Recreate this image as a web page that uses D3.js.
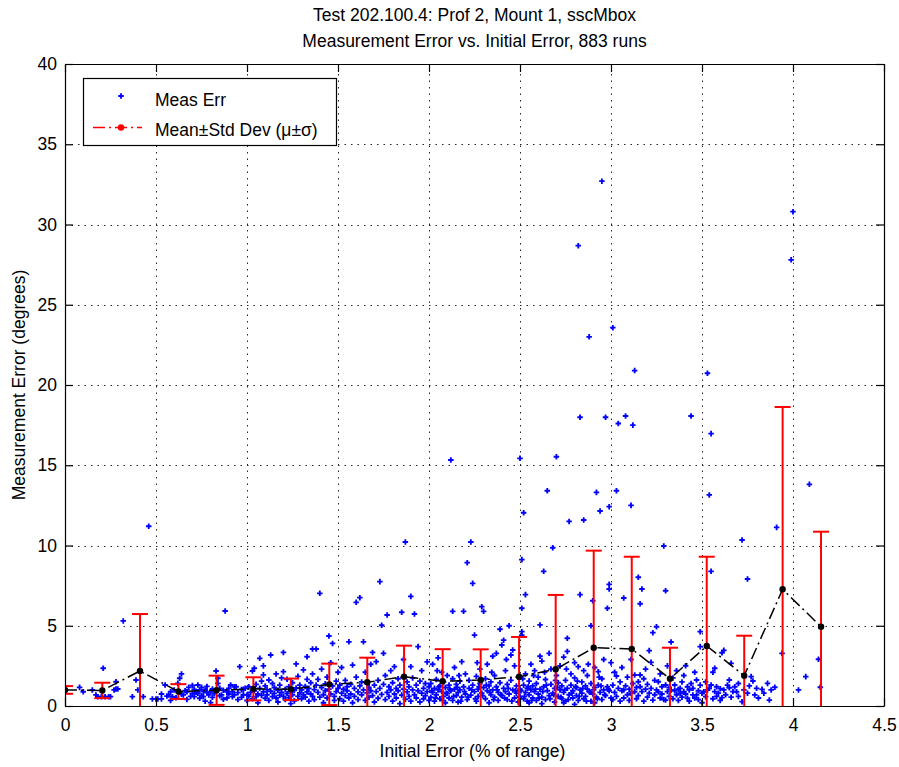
<!DOCTYPE html>
<html>
<head>
<meta charset="utf-8">
<script src="https://cdn.jsdelivr.net/npm/d3@7"></script>
<style>
  body { margin: 0; background: #fff; }
  text { font-family: "Liberation Sans", Arial, Helvetica, sans-serif; }
</style>
</head>
<body>
<svg id="chart" width="899" height="767"></svg>
<script>
// ---- chart text ----
const titleLines = [
  "Test 202.100.4: Prof 2, Mount 1, sscMbox",
  "Measurement Error vs. Initial Error, 883 runs"
];
const xLabel = "Initial Error (% of range)";
const yLabel = "Measurement Error (degrees)";
const legendLabels = ["Meas Err", "Mean\u00B1Std Dev (\u03BC\u00B1\u03C3)"];

// ---- axis ticks ----
const xTicks = [0, 0.5, 1, 1.5, 2, 2.5, 3, 3.5, 4, 4.5];
const yTicks = [0, 5, 10, 15, 20, 25, 30, 35, 40];

// ---- binned statistics: bin centre, mean and standard deviation ----
const binCenters = [0, 0.205, 0.412, 0.623, 0.833, 1.035, 1.242, 1.452, 1.661, 1.863, 2.075,
                    2.284, 2.495, 2.696, 2.905, 3.114, 3.324, 3.526, 3.732, 3.943, 4.154];
const binMeans   = [1.0, 0.97, 2.18, 0.9, 0.98, 1.07, 1.04, 1.35, 1.48, 1.83, 1.54,
                    1.62, 1.83, 2.29, 3.63, 3.55, 1.70, 3.74, 1.89, 7.27, 4.94];
const binStd     = [0.24, 0.48, 3.55, 0.46, 0.91, 0.72, 0.67, 1.29, 1.53, 1.93, 2.0,
                    1.91, 2.47, 4.63, 6.05, 5.75, 1.93, 5.56, 2.49, 11.36, 5.92];

// ---- individual runs: [initial error, measurement error] ----
const measErr = [
  // 0 - 0.55
  [0.08,1.16],[0.10,0.89],[0.15,1.0],[0.17,0.69],[0.18,0.58],[0.20,0.58],[0.22,0.58],[0.24,0.58],
  [0.25,0.58],[0.21,2.35],[0.27,1.0],[0.28,1.06],[0.29,1.06],[0.28,1.51],[0.32,5.3],[0.37,0.58],
  [0.39,1.62],[0.40,1.0],[0.43,0.58],[0.46,11.2],[0.48,0.44],[0.50,0.44],[0.51,0.44],[0.53,0.44],
  [0.53,0.75],
  // 0.55 - 1.0
  [0.55,1.31],[0.56,0.62],[0.57,0.69],[0.58,0.89],[0.58,0.35],[0.59,0.58],[0.60,1.0],[0.61,0.52],
  [0.62,1.41],[0.63,1.73],[0.64,2.0],[0.64,0.74],[0.65,0.69],[0.66,0.95],[0.67,0.89],[0.67,0.41],
  [0.68,1.16],[0.69,0.6],[0.70,0.79],[0.70,1.28],[0.71,0.58],[0.71,1.04],[0.72,0.85],[0.73,1.31],
  [0.73,0.79],[0.74,1.0],[0.74,0.48],[0.75,1.16],[0.75,0.66],[0.76,0.58],[0.76,0.92],[0.77,1.0],
  [0.77,0.3],[0.78,0.83],[0.78,1.22],[0.79,0.69],[0.80,0.89],[0.80,0.21],[0.81,0.54],[0.81,1.06],
  [0.82,0.78],[0.83,2.18],[0.84,1.73],[0.84,1.41],[0.85,1.1],[0.85,0.64],[0.86,0.69],[0.87,0.42],
  [0.87,0.98],[0.88,5.92],[0.89,0.89],[0.89,0.5],[0.90,1.1],[0.90,0.75],[0.91,1.31],[0.92,0.58],
  [0.92,0.89],[0.93,0.69],[0.93,1.2],[0.94,1.2],[0.95,0.83],[0.95,0.4],[0.96,2.45],[0.97,0.54],
  [0.97,1.02],[0.98,1.04],[0.98,0.7],[0.99,1.1],[1.0,0.69],[1.0,0.34],
  // 1.0 - 1.5
  [1.01,0.62],[1.01,1.2],[1.02,0.85],[1.03,2.18],[1.03,0.45],[1.04,2.35],[1.04,0.95],[1.05,0.58],
  [1.05,1.35],[1.06,0.75],[1.06,0.2],[1.07,2.97],[1.07,1.1],[1.08,0.66],[1.08,1.55],[1.09,2.5],
  [1.09,1.94],[1.09,0.88],[1.10,0.48],[1.10,1.25],[1.11,0.7],[1.11,1.02],[1.12,0.35],[1.12,1.62],
  [1.13,3.18],[1.13,0.92],[1.14,0.58],[1.14,1.4],[1.15,0.79],[1.15,1.15],[1.16,2.0],[1.16,0.5],
  [1.17,0.98],[1.17,0.25],[1.18,1.3],[1.18,0.66],[1.19,0.85],[1.19,1.75],[1.20,2.14],[1.20,3.34],
  [1.20,0.6],[1.21,1.05],[1.21,0.4],[1.22,1.66],[1.22,0.78],[1.23,1.2],[1.23,0.52],[1.24,0.9],
  [1.24,0.15],[1.25,1.45],[1.25,0.7],[1.26,0.98],[1.26,0.32],[1.27,2.62],[1.27,1.12],[1.28,0.6],
  [1.28,1.85],[1.29,0.82],[1.29,1.3],[1.30,0.45],[1.30,1.0],[1.31,2.25],[1.31,0.7],[1.32,1.22],
  [1.32,0.55],[1.33,3.07],[1.33,1.66],[1.33,0.88],[1.34,0.3],[1.34,1.1],[1.35,0.75],[1.35,1.45],
  [1.36,2.0],[1.36,3.55],[1.36,0.6],[1.37,1.02],[1.37,0.4],[1.38,3.55],[1.38,1.3],[1.39,0.85],
  [1.39,1.66],[1.40,7.02],[1.40,0.55],[1.41,1.15],[1.41,2.3],[1.42,0.7],[1.42,0.2],[1.43,1.38],
  [1.43,0.95],[1.44,1.8],[1.44,0.5],[1.45,4.36],[1.45,1.05],[1.46,0.75],[1.46,2.7],[1.47,3.9],
  [1.47,1.25],[1.48,0.6],[1.48,0.35],[1.49,1.55],[1.49,0.9],[1.50,1.1],[1.50,2.1],
  // 1.5 - 2.0
  [1.51,0.45],[1.51,1.3],[1.52,0.8],[1.52,2.4],[1.53,1.05],[1.53,0.3],[1.54,0.65],[1.54,1.6],
  [1.55,0.95],[1.55,1.2],[1.56,4.0],[1.56,0.5],[1.57,1.35],[1.57,0.75],[1.58,2.55],[1.58,0.2],
  [1.59,1.1],[1.59,0.6],[1.60,6.46],[1.60,1.8],[1.61,0.88],[1.61,0.4],[1.62,6.75],[1.62,1.25],
  [1.63,0.7],[1.63,1.5],[1.64,4.0],[1.64,1.0],[1.65,0.35],[1.65,2.1],[1.66,0.82],[1.66,1.4],
  [1.67,0.55],[1.67,1.15],[1.68,0.95],[1.68,2.6],[1.69,3.34],[1.69,0.65],[1.70,1.3],[1.70,0.25],
  [1.71,2.76],[1.71,0.9],[1.72,1.6],[1.72,0.48],[1.73,7.75],[1.73,1.1],[1.74,5.03],[1.74,0.72],
  [1.75,3.28],[1.75,1.35],[1.76,0.4],[1.76,1.9],[1.77,5.67],[1.77,0.85],[1.78,1.2],[1.78,0.6],
  [1.79,2.2],[1.79,1.0],[1.80,0.3],[1.80,1.45],[1.81,2.45],[1.81,0.75],[1.82,1.1],[1.82,0.5],
  [1.83,1.7],[1.83,0.95],[1.84,0.15],[1.84,1.3],[1.85,5.84],[1.85,0.68],[1.86,2.9],[1.86,1.05],
  [1.87,10.22],[1.87,0.42],[1.88,1.5],[1.88,0.88],[1.89,1.2],[1.89,0.6],[1.90,6.83],[1.90,2.45],
  [1.90,0.3],[1.91,1.0],[1.91,1.75],[1.92,5.73],[1.92,0.7],[1.93,1.3],[1.93,0.5],[1.94,3.7],
  [1.94,0.95],[1.95,1.55],[1.95,0.25],[1.96,2.2],[1.96,0.8],[1.97,1.1],[1.97,0.45],[1.98,1.4],
  [1.98,0.65],[1.99,0.9],[1.99,2.75],[2.0,1.2],[2.0,0.35],
  // 2.0 - 2.5
  [2.01,0.55],[2.01,1.4],[2.02,2.6],[2.02,0.85],[2.03,1.1],[2.03,0.3],[2.04,1.65],[2.04,0.7],
  [2.05,3.0],[2.05,1.0],[2.06,0.45],[2.06,1.25],[2.07,2.1],[2.07,0.9],[2.08,0.6],[2.08,1.5],
  [2.09,0.2],[2.09,1.15],[2.10,0.78],[2.10,1.9],[2.11,1.3],[2.11,0.5],[2.12,15.33],[2.12,0.95],
  [2.13,5.9],[2.13,1.7],[2.13,0.35],[2.14,1.05],[2.14,2.4],[2.15,0.65],[2.15,1.35],[2.16,0.85],
  [2.16,0.25],[2.17,1.55],[2.17,1.0],[2.18,2.76],[2.18,0.55],[2.19,5.9],[2.19,1.2],[2.20,0.75],
  [2.20,2.0],[2.21,8.93],[2.21,0.4],[2.22,1.1],[2.22,1.6],[2.23,10.22],[2.23,0.68],[2.24,7.64],
  [2.24,1.3],[2.25,4.42],[2.25,0.9],[2.26,0.3],[2.26,1.85],[2.27,1.05],[2.27,0.6],[2.28,2.3],
  [2.28,1.4],[2.29,6.19],[2.29,0.8],[2.30,5.9],[2.30,1.15],[2.31,0.45],[2.31,1.7],[2.32,0.95],
  [2.32,2.6],[2.33,1.25],[2.33,0.2],[2.34,0.7],[2.34,1.5],[2.35,1.0],[2.35,3.1],[2.36,0.55],
  [2.36,1.9],[2.37,3.28],[2.37,1.2],[2.38,0.85],[2.38,0.35],[2.39,4.78],[2.39,1.45],[2.40,3.8],
  [2.40,0.65],[2.41,4.1],[2.41,1.1],[2.42,0.9],[2.42,2.2],[2.43,0.4],[2.43,1.35],[2.44,5.0],
  [2.44,0.75],[2.45,3.18],[2.45,1.6],[2.46,3.49],[2.46,1.0],[2.47,0.5],[2.47,2.5],[2.48,1.25],
  [2.48,0.8],[2.49,0.25],[2.49,1.8],[2.50,15.43],[2.50,1.05],[2.50,0.6],
  [2.015,0.95],[2.035,0.5],[2.055,1.2],[2.075,0.35],[2.095,0.8],[2.115,1.05],[2.135,0.6],[2.155,1.15],
  [2.175,0.3],[2.195,0.9],[2.215,0.55],[2.235,1.0],[2.255,0.45],[2.275,1.2],[2.295,0.65],[2.315,1.3],
  [2.335,0.85],[2.355,0.4],[2.375,1.0],[2.395,0.7],[2.415,0.5],[2.435,1.1],[2.455,0.3],[2.475,0.95],
  [2.495,0.55],[2.045,2.2],[2.165,1.9],[2.265,2.7],[2.345,2.1],[2.425,2.9],
  // 2.5 - 3.0
  [2.51,4.42],[2.51,4.63],[2.51,6.09],[2.51,9.12],[2.52,12.04],[2.52,1.3],[2.52,0.45],[2.53,6.94],
  [2.53,0.85],[2.53,2.0],[2.54,1.1],[2.54,0.3],[2.55,1.55],[2.55,0.7],[2.56,2.6],[2.56,1.0],
  [2.57,0.5],[2.57,1.25],[2.58,0.9],[2.58,2.2],[2.59,0.35],[2.59,1.4],[2.60,0.75],[2.60,1.8],
  [2.61,5.05],[2.61,3.1],[2.61,1.05],[2.62,0.55],[2.62,2.8],[2.63,8.39],[2.63,1.2],[2.64,0.4],
  [2.64,1.65],[2.65,0.95],[2.65,13.41],[2.66,3.28],[2.66,0.65],[2.67,1.35],[2.67,2.3],[2.68,9.86],
  [2.68,0.8],[2.69,1.1],[2.69,0.25],[2.70,15.53],[2.70,1.9],[2.71,0.6],[2.71,1.45],[2.72,1.0],
  [2.72,2.5],[2.73,0.45],[2.73,1.25],[2.74,0.85],[2.74,3.05],[2.75,1.6],[2.75,0.3],[2.76,4.22],
  [2.76,3.4],[2.76,1.1],[2.77,11.5],[2.77,0.7],[2.78,2.0],[2.78,1.3],[2.79,0.5],[2.79,0.95],
  [2.80,1.75],[2.80,2.7],[2.81,0.65],[2.81,1.15],[2.82,28.68],[2.82,2.45],[2.82,0.35],[2.83,17.99],
  [2.83,6.94],[2.83,1.0],[2.84,1.5],[2.84,0.8],[2.85,11.59],[2.85,2.2],[2.85,0.45],[2.86,1.25],
  [2.86,0.6],[2.87,1.9],[2.87,1.05],[2.88,23.0],[2.88,0.9],[2.89,5.0],[2.89,1.4],[2.89,0.3],
  [2.90,6.56],[2.90,0.75],[2.91,2.4],[2.91,1.15],[2.92,13.31],[2.92,0.55],[2.93,2.14],[2.93,1.3],
  [2.94,12.15],[2.94,0.85],[2.95,32.7],[2.95,1.7],[2.95,0.4],[2.96,1.0],[2.96,2.9],[2.97,17.99],
  [2.97,0.65],[2.98,1.2],[2.98,6.09],[2.99,7.58],[2.99,7.29],[2.99,12.42],[2.99,0.95],[3.0,2.7],
  [3.0,0.5],
  [2.505,0.95],[2.525,0.6],[2.545,1.2],[2.565,0.35],[2.585,1.05],[2.605,0.5],[2.625,0.9],[2.645,1.3],
  [2.665,0.45],[2.685,0.7],[2.705,1.15],[2.725,0.55],[2.745,1.0],[2.765,0.4],[2.785,0.8],[2.805,1.2],
  [2.825,0.6],[2.845,1.1],[2.865,0.3],[2.885,0.85],[2.905,1.0],[2.925,0.45],[2.945,1.25],[2.965,0.7],
  [2.985,1.05],[2.515,1.7],[2.575,1.9],[2.635,2.1],[2.695,1.6],[2.755,2.3],[2.815,1.55],[2.875,2.6],
  [2.935,1.8],[2.55,0.2],[2.62,0.15],[2.74,0.2],[2.80,0.1],[2.91,0.2],
  // 3.0 - 3.5
  [3.01,23.57],[3.01,1.3],[3.01,0.4],[3.02,0.85],[3.02,2.1],[3.03,13.41],[3.03,1.87],[3.03,0.6],
  [3.04,17.6],[3.04,1.1],[3.05,0.3],[3.05,1.5],[3.06,0.95],[3.06,2.4],[3.07,6.73],[3.07,1.0],
  [3.07,0.5],[3.08,18.07],[3.08,1.25],[3.09,0.7],[3.09,1.8],[3.10,0.35],[3.10,1.05],[3.11,12.5],
  [3.11,2.9],[3.11,0.8],[3.12,17.5],[3.12,1.4],[3.13,20.9],[3.13,1.93],[3.13,0.89],[3.14,0.45],
  [3.14,1.15],[3.15,8.02],[3.15,1.51],[3.15,0.65],[3.16,6.37],[3.16,1.93],[3.16,1.2],[3.17,7.29],
  [3.17,0.9],[3.18,1.7],[3.18,0.3],[3.19,1.05],[3.19,2.3],[3.20,0.55],[3.20,1.35],[3.21,3.45],
  [3.21,0.8],[3.22,2.72],[3.22,1.1],[3.23,4.57],[3.23,0.37],[3.24,1.6],[3.24,0.7],[3.25,4.94],
  [3.25,1.0],[3.26,0.89],[3.26,1.51],[3.27,0.5],[3.27,2.0],[3.28,1.2],[3.28,0.75],[3.29,9.97],
  [3.29,0.4],[3.30,7.18],[3.30,1.31],[3.30,0.37],[3.31,0.9],[3.31,2.5],[3.32,1.15],[3.32,0.6],
  [3.33,3.99],[3.33,1.0],[3.34,0.45],[3.34,1.75],[3.35,1.31],[3.35,0.95],[3.36,0.7],[3.36,2.2],
  [3.37,1.05],[3.37,0.35],[3.38,1.1],[3.38,0.8],[3.39,1.5],[3.39,0.55],[3.40,0.9],[3.40,1.9],
  [3.41,2.51],[3.41,0.75],[3.42,0.48],[3.42,1.2],[3.43,1.0],[3.43,0.3],[3.44,18.07],[3.44,1.4],
  [3.45,0.69],[3.45,1.1],[3.46,0.5],[3.46,2.1],[3.47,0.69],[3.47,1.62],[3.48,0.95],[3.48,0.4],
  [3.49,4.63],[3.49,3.7],[3.49,1.3],[3.50,0.8],[3.50,0.2],
  // 3.5 - 4.2
  [3.51,0.89],[3.52,0.58],[3.52,1.5],[3.53,20.73],[3.53,1.0],[3.54,13.15],[3.54,1.1],[3.55,16.97],
  [3.55,8.39],[3.55,1.31],[3.56,2.1],[3.56,0.45],[3.57,2.35],[3.57,0.9],[3.58,1.2],[3.58,0.6],
  [3.59,0.8],[3.60,1.08],[3.60,0.35],[3.61,3.32],[3.61,0.52],[3.62,3.47],[3.62,1.0],[3.63,0.7],
  [3.64,1.3],[3.65,1.14],[3.65,1.62],[3.66,2.66],[3.66,0.55],[3.67,0.9],[3.68,1.2],[3.69,0.89],
  [3.70,1.4],[3.70,0.6],[3.72,10.34],[3.72,0.27],[3.73,1.0],[3.75,7.91],[3.75,0.8],[3.76,1.25],
  [3.77,1.83],[3.78,1.56],[3.79,0.69],[3.80,1.1],[3.81,0.5],[3.83,1.04],[3.84,0.8],[3.86,1.41],
  [3.87,0.37],[3.88,1.0],[3.90,1.17],[3.91,11.13],[3.94,3.28],[3.99,27.8],[4.0,30.8],[4.03,1.0],
  [4.07,1.83],[4.09,13.81],[4.14,2.91],[4.15,1.17]
];

// ---- layout ----
const svg = d3.select("#chart");
const plot = { left: 65, right: 884, top: 64, bottom: 706 };
const x = d3.scaleLinear().domain([0, 4.5]).range([plot.left, plot.right]);
const y = d3.scaleLinear().domain([0, 40]).range([plot.bottom, plot.top]);
const FONT = 17.5;

svg.append("rect").attr("width", 899).attr("height", 767).attr("fill", "#fff");

svg.append("defs").append("clipPath").attr("id", "plot-clip")
  .append("rect")
  .attr("x", plot.left).attr("y", plot.top)
  .attr("width", plot.right - plot.left).attr("height", plot.bottom - plot.top);

// dotted grid
const grid = svg.append("g").attr("stroke", "#000").attr("stroke-width", 1)
  .attr("stroke-dasharray", "1.5,5").attr("opacity", 0.85);
grid.selectAll("line.gx").data(xTicks.slice(1, -1)).join("line")
  .attr("x1", d => Math.round(x(d)) + 0.5).attr("x2", d => Math.round(x(d)) + 0.5)
  .attr("y1", plot.bottom).attr("y2", plot.top);
grid.selectAll("line.gy").data(yTicks.slice(1, -1)).join("line")
  .attr("y1", d => Math.round(y(d)) + 0.5).attr("y2", d => Math.round(y(d)) + 0.5)
  .attr("x1", plot.left).attr("x2", plot.right);

const inner = svg.append("g").attr("clip-path", "url(#plot-clip)");

// individual runs
const cross = d3.symbol().type(d3.symbolCross).size(17);
inner.append("g").selectAll("path").data(measErr).join("path")
  .attr("d", cross)
  .attr("transform", d => `translate(${x(d[0])},${y(d[1])})`)
  .attr("fill", "#0000ff");

// error bars (mean ± std)
const bins = binCenters.map((c, i) => ({ c, m: binMeans[i], s: binStd[i] }));
const eb = inner.append("g").attr("stroke", "#ff0000").attr("stroke-width", 2).attr("fill", "none");
const capHalf = 8;
bins.forEach(b => {
  const lo = b.m - b.s, hi = b.m + b.s;
  eb.append("line").attr("x1", x(b.c)).attr("x2", x(b.c)).attr("y1", y(lo)).attr("y2", y(hi));
  eb.append("line").attr("x1", x(b.c) - capHalf).attr("x2", x(b.c) + capHalf).attr("y1", y(hi)).attr("y2", y(hi));
  eb.append("line").attr("x1", x(b.c) - capHalf).attr("x2", x(b.c) + capHalf).attr("y1", y(lo)).attr("y2", y(lo));
});

// mean line with markers
inner.append("path")
  .datum(bins)
  .attr("d", d3.line().x(d => x(d.c)).y(d => y(d.m)))
  .attr("fill", "none").attr("stroke", "#000").attr("stroke-width", 1.5)
  .attr("stroke-dasharray", "12,4,2,4");
inner.append("g").selectAll("circle").data(bins).join("circle")
  .attr("cx", d => x(d.c)).attr("cy", d => y(d.m)).attr("r", 3.2).attr("fill", "#000");

// axes (ticks pointing inward on all four sides)
const fmt = d3.format("~g");
const axB = svg.append("g").attr("transform", `translate(0,${plot.bottom})`)
  .call(d3.axisBottom(x).tickValues(xTicks).tickFormat(fmt).tickSizeInner(-8).tickSizeOuter(0).tickPadding(13));
const axT = svg.append("g").attr("transform", `translate(0,${plot.top})`)
  .call(d3.axisTop(x).tickValues(xTicks).tickFormat("").tickSizeInner(-8).tickSizeOuter(0));
const axL = svg.append("g").attr("transform", `translate(${plot.left},0)`)
  .call(d3.axisLeft(y).tickValues(yTicks).tickFormat(fmt).tickSizeInner(-8).tickSizeOuter(0).tickPadding(8));
const axR = svg.append("g").attr("transform", `translate(${plot.right},0)`)
  .call(d3.axisRight(y).tickValues(yTicks).tickFormat("").tickSizeInner(-8).tickSizeOuter(0));
[axB, axT, axL, axR].forEach(a => {
  a.selectAll("path.domain").attr("stroke", "#000").attr("stroke-width", 1.2);
  a.selectAll(".tick line").attr("stroke", "#000").attr("stroke-width", 1.2);
  a.selectAll("text").attr("fill", "#000").style("font-size", FONT + "px")
    .style("font-family", '"Liberation Sans", Arial, sans-serif');
});

// titles and axis labels
svg.append("g").selectAll("text").data(titleLines).join("text")
  .attr("x", (plot.left + plot.right) / 2)
  .attr("y", (d, i) => 21 + i * 26)
  .attr("text-anchor", "middle").style("font-size", FONT + "px").text(d => d);

svg.append("text")
  .attr("x", (plot.left + plot.right) / 2 - 2).attr("y", 757)
  .attr("text-anchor", "middle").style("font-size", FONT + "px").text(xLabel);

svg.append("text")
  .attr("transform", `translate(25,${(plot.top + plot.bottom) / 2}) rotate(-90)`)
  .attr("text-anchor", "middle").style("font-size", FONT + "px").text(yLabel);

// legend
const lg = svg.append("g");
lg.append("rect").attr("x", 83.5).attr("y", 78.5).attr("width", 253).attr("height", 67)
  .attr("fill", "#fff").attr("stroke", "#000").attr("stroke-width", 1.2);
lg.append("path").attr("d", cross).attr("transform", "translate(121,96)").attr("fill", "#0000ff");
lg.append("line").attr("x1", 93).attr("x2", 142).attr("y1", 127.5).attr("y2", 127.5)
  .attr("stroke", "#ff0000").attr("stroke-width", 1.5).attr("stroke-dasharray", "12,4,2,4");
lg.append("circle").attr("cx", 121).attr("cy", 127.5).attr("r", 3.2).attr("fill", "#ff0000");
lg.selectAll("text").data(legendLabels).join("text")
  .attr("x", 155).attr("y", (d, i) => 106 + i * 30)
  .style("font-size", FONT + "px").text(d => d);
</script>
</body>
</html>
